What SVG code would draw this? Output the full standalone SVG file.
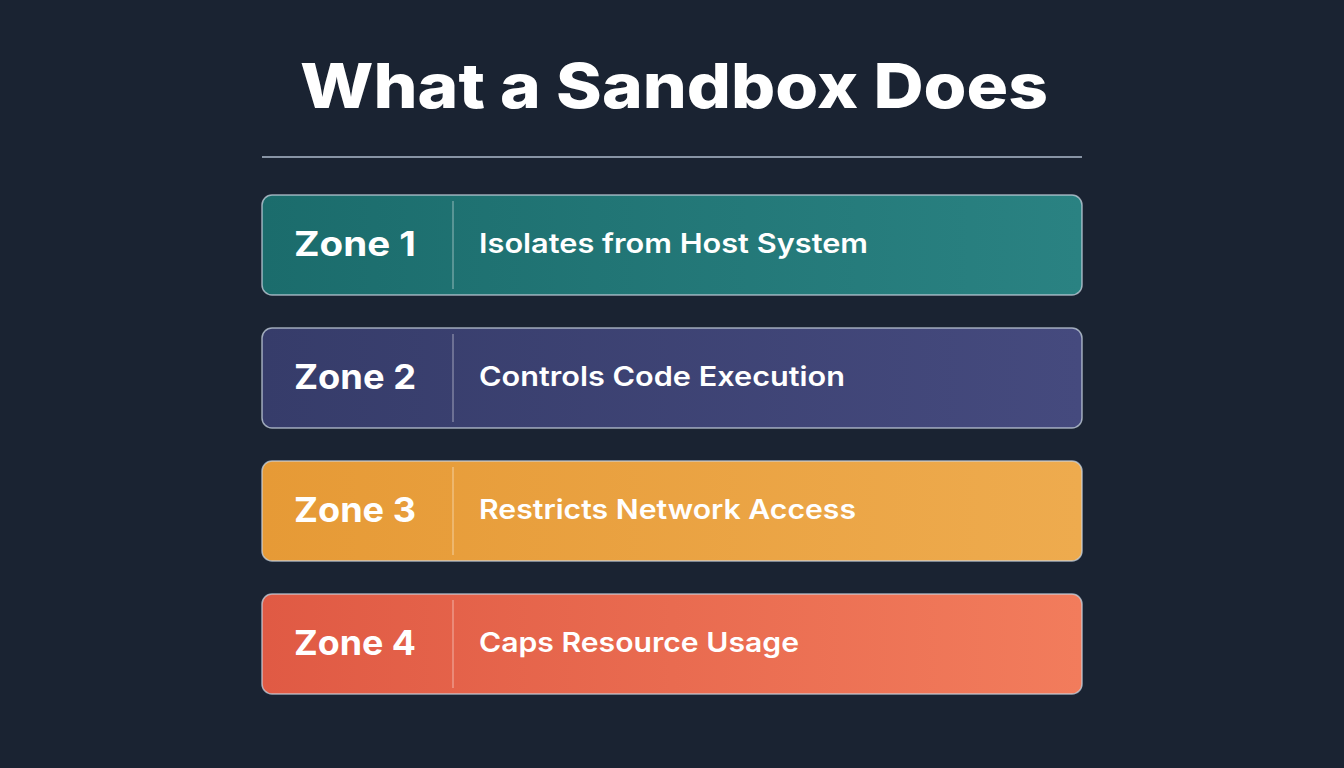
<svg xmlns="http://www.w3.org/2000/svg" width="1344" height="768" viewBox="0 0 1344 768">
<defs>
<linearGradient id="g1" x1="0" x2="1"><stop offset="0" stop-color="#1b6c6c"/><stop offset="1" stop-color="#2a8282"/></linearGradient>
<linearGradient id="g2" x1="0" x2="1"><stop offset="0" stop-color="#363c6a"/><stop offset="1" stop-color="#454a7e"/></linearGradient>
<linearGradient id="g3" x1="0" x2="1"><stop offset="0" stop-color="#e69a36"/><stop offset="1" stop-color="#eeab4e"/></linearGradient>
<linearGradient id="g4" x1="0" x2="1"><stop offset="0" stop-color="#e05a44"/><stop offset="1" stop-color="#f27c5c"/></linearGradient>
</defs>
<style>
.box{stroke:#c8d4e0;stroke-opacity:.75;stroke-width:1.5}
.div{stroke:#ffffff;stroke-opacity:.35;stroke-width:1.5}
.z{font-family:Inter,"Liberation Sans",sans-serif;font-weight:700;font-size:34px;fill:#fff}
.d{font-family:Inter,"Liberation Sans",sans-serif;font-weight:600;font-size:27px;fill:#fff}
</style>
<rect width="1344" height="768" fill="#1a2332"/>
<text x="300" y="108" textLength="748" lengthAdjust="spacingAndGlyphs" font-family="Inter,'Liberation Sans',sans-serif" font-weight="800" font-size="62" fill="#fff">What a Sandbox Does</text>
<line x1="262" y1="157" x2="1082" y2="157" stroke="#aebbcc" stroke-width="1.5"/>
<g id="zone1"><rect class="box" x="262" y="195" width="820" height="100" rx="10" fill="url(#g1)"/><line class="div" x1="453" y1="201" x2="453" y2="289"/><text class="z" x="294" y="256" textLength="122" lengthAdjust="spacingAndGlyphs">Zone 1</text><text class="d" x="479" y="253" textLength="389" lengthAdjust="spacingAndGlyphs">Isolates from Host System</text></g>
<g id="zone2"><rect class="box" x="262" y="328" width="820" height="100" rx="10" fill="url(#g2)"/><line class="div" x1="453" y1="334" x2="453" y2="422"/><text class="z" x="294" y="389" textLength="122" lengthAdjust="spacingAndGlyphs">Zone 2</text><text class="d" x="479" y="386" textLength="366" lengthAdjust="spacingAndGlyphs">Controls Code Execution</text></g>
<g id="zone3"><rect class="box" x="262" y="461" width="820" height="100" rx="10" fill="url(#g3)"/><line class="div" x1="453" y1="467" x2="453" y2="555"/><text class="z" x="294" y="522" textLength="122" lengthAdjust="spacingAndGlyphs">Zone 3</text><text class="d" x="479" y="519" textLength="377" lengthAdjust="spacingAndGlyphs">Restricts Network Access</text></g>
<g id="zone4"><rect class="box" x="262" y="594" width="820" height="100" rx="10" fill="url(#g4)"/><line class="div" x1="453" y1="600" x2="453" y2="688"/><text class="z" x="294" y="655" textLength="122" lengthAdjust="spacingAndGlyphs">Zone 4</text><text class="d" x="479" y="652" textLength="320" lengthAdjust="spacingAndGlyphs">Caps Resource Usage</text></g>
<g id="connectors"/>
</svg>
